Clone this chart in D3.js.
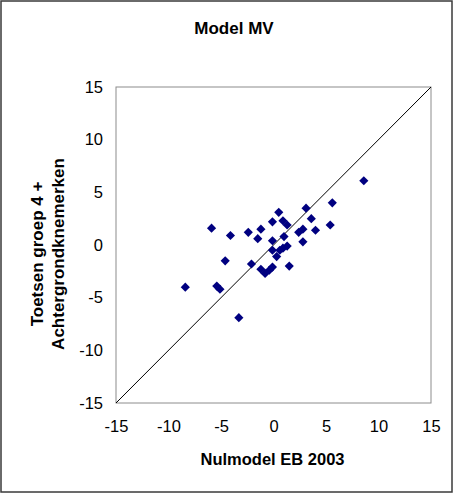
<!DOCTYPE html>
<html>
<head>
<meta charset="utf-8">
<script src="https://cdn.jsdelivr.net/npm/d3@7"></script>
<style>
html,body{margin:0;padding:0;background:#fff;}
svg{display:block;font-family:"Liberation Sans",Arial,sans-serif;}
</style>
</head>
<body>
<svg id="chart" width="454" height="494"></svg>
<script>
const title = "Model MV";
const xTitle = "Nulmodel EB 2003";
const yTitleLines = ["Toetsen groep 4 +", "Achtergrondknemerken"];
const tickValues = [-15, -10, -5, 0, 5, 10, 15];
const xValues = [8.6, 5.6, 3.1, 0.5, -0.1, 0.9, 1.3, 3.6, -5.9, -4.1, -2.4, -1.2, -1.5, 2.4, 2.8, 4.0, 5.4, -0.1, 1.0, 2.8, 1.3, -0.1, 0.6, 0.3, 0.9, -4.6, -2.1, 1.5, -1.2, -0.8, -0.1, -0.4, -8.4, -5.4, -5.1, -3.3];
const yValues = [6.1, 4.0, 3.5, 3.1, 2.2, 2.3, 1.9, 2.5, 1.6, 0.9, 1.2, 1.5, 0.6, 1.2, 1.5, 1.4, 1.9, 0.4, 0.8, 0.3, -0.1, -0.5, -0.5, -1.1, -0.3, -1.5, -1.8, -2.0, -2.3, -2.7, -2.1, -2.4, -4.0, -3.9, -4.2, -6.9];
const diagonal = [-15, 15];

const svg = d3.select("#chart");
const W = 454, H = 494;
const plot = {left: 116, right: 431, top: 87, bottom: 403};

// outer border
svg.append("rect").attr("x", 1).attr("y", 1).attr("width", W - 3).attr("height", H - 3)
  .attr("fill", "#fff").attr("stroke", "#3a3a3a").attr("stroke-width", 1.5);

const x = d3.scaleLinear().domain([-15, 15]).range([plot.left, plot.right]);
const y = d3.scaleLinear().domain([-15, 15]).range([plot.bottom, plot.top]);

// plot box
svg.append("rect").attr("x", plot.left).attr("y", plot.top)
  .attr("width", plot.right - plot.left).attr("height", plot.bottom - plot.top)
  .attr("fill", "#fff").attr("stroke", "#8c8c8c").attr("stroke-width", 1);

// axes
const xAxis = svg.append("g").attr("transform", `translate(0,${plot.bottom})`)
  .call(d3.axisBottom(x).tickValues(tickValues).tickSize(0).tickPadding(17).tickFormat(d3.format("d")));
const yAxis = svg.append("g").attr("transform", `translate(${plot.left},0)`)
  .call(d3.axisLeft(y).tickValues(tickValues).tickSize(0).tickPadding(13).tickFormat(d3.format("d")));
[xAxis, yAxis].forEach(g => {
  g.select(".domain").remove();
  g.selectAll("text").attr("font-family", "Liberation Sans, Arial, sans-serif")
    .attr("font-size", 16.5).attr("fill", "#000");
});
// plain hyphen-minus like the original
[xAxis, yAxis].forEach(g => g.selectAll("text").text(d => String(d)));

// diagonal line
svg.append("line")
  .attr("x1", x(diagonal[0])).attr("y1", y(diagonal[0]))
  .attr("x2", x(diagonal[1])).attr("y2", y(diagonal[1]))
  .attr("stroke", "#000").attr("stroke-width", 1);

// points
const sym = d3.symbol().type(d3.symbolSquare).size(42);
svg.append("g").selectAll("path").data(xValues.map((v, i) => [v, yValues[i]]))
  .join("path")
  .attr("d", sym)
  .attr("transform", d => `translate(${x(d[0])},${y(d[1])}) rotate(45)`)
  .attr("fill", "#000080");

// titles
svg.append("text").attr("x", 234).attr("y", 34).attr("text-anchor", "middle")
  .attr("font-size", 17).attr("font-weight", "bold").text(title);
svg.append("text").attr("x", 272.5).attr("y", 465).attr("text-anchor", "middle")
  .attr("font-size", 16.5).attr("font-weight", "bold").text(xTitle);
yTitleLines.forEach((line, i) => {
  svg.append("text")
    .attr("transform", `translate(${43 + i * 21},254) rotate(-90)`)
    .attr("text-anchor", "middle")
    .attr("font-size", 17).attr("font-weight", "bold").text(line);
});
</script>
</body>
</html>
